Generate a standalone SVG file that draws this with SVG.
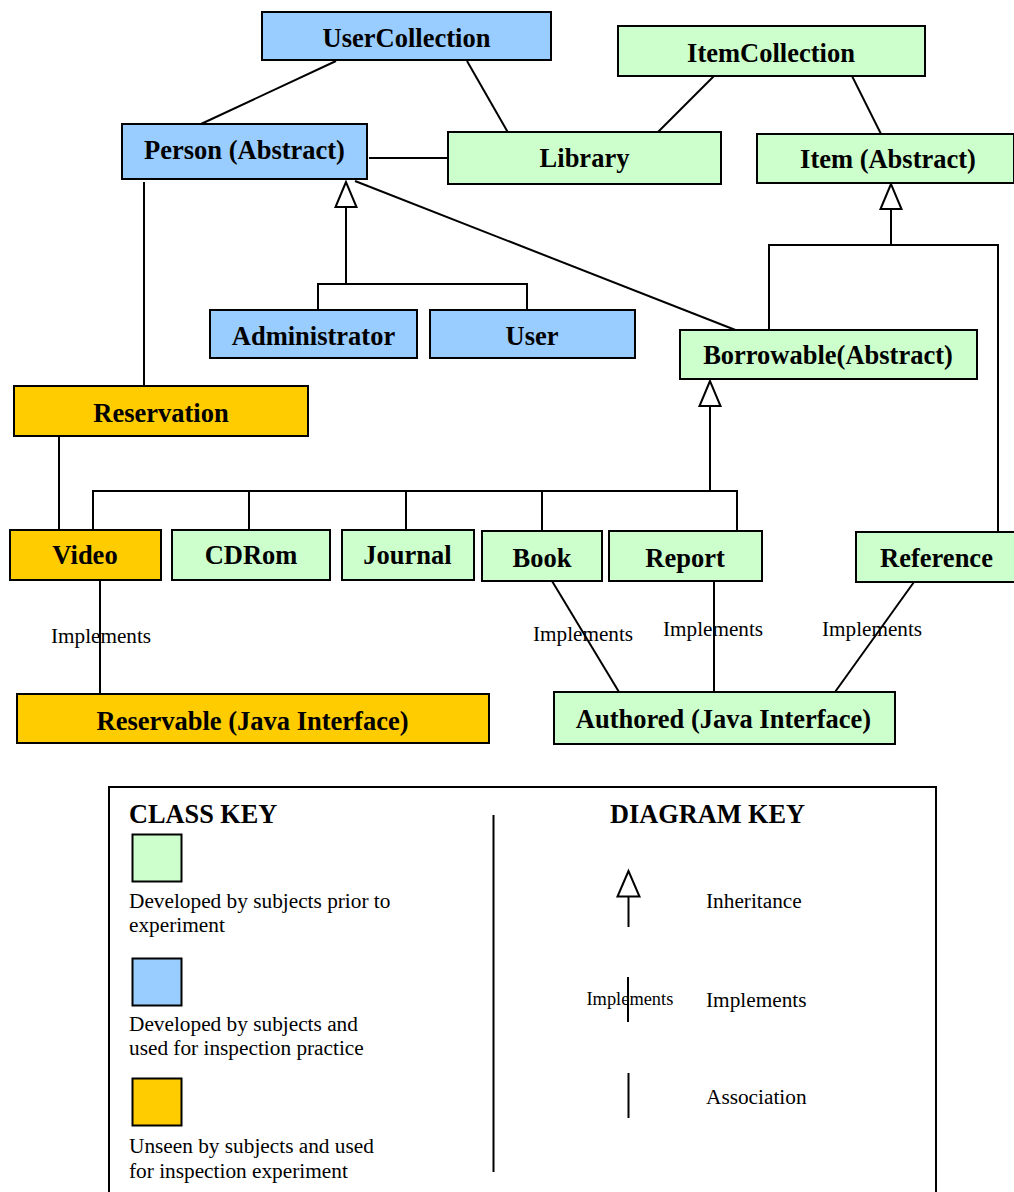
<svg xmlns="http://www.w3.org/2000/svg" width="1014" height="1192" viewBox="0 0 1014 1192">
<style>
text{font-family:"Liberation Serif","Times New Roman",serif;fill:#000}
.n{font-size:26.5px;font-weight:bold;text-anchor:middle}
.b{fill:#99CCFF;stroke:#000;stroke-width:2}
.g{fill:#CCFFCC;stroke:#000;stroke-width:2}
.o{fill:#FFCC00;stroke:#000;stroke-width:2}
.l{stroke:#000;stroke-width:2;fill:none}
.tri{fill:#fff;stroke:#000;stroke-width:2}
.lab{font-size:21.2px}
.k{font-size:21.3px}
.kh{font-size:26.3px;font-weight:bold}
</style>
<rect width="1014" height="1192" fill="#fff"/>
<g id="connectors">
<line class="l" x1="336" y1="61" x2="201" y2="124"/>
<line class="l" x1="467" y1="61" x2="510" y2="136"/>
<line class="l" x1="369" y1="158" x2="452" y2="158"/>
<line class="l" x1="714" y1="76" x2="658" y2="132"/>
<line class="l" x1="852" y1="76" x2="881" y2="134"/>
<line class="l" x1="355" y1="181" x2="738" y2="331"/>
<line class="l" x1="144" y1="182" x2="144" y2="386"/>
<polyline class="l" points="346,207 346,284"/>
<polyline class="l" points="318,310 318,284 527,284 527,310"/>
<polygon class="tri" points="346,182 335.5,207 356.5,207"/>
<polyline class="l" points="891,209 891,245"/>
<polyline class="l" points="769,330 769,245 998,245 998,531"/>
<polygon class="tri" points="891,184 880.5,209 901.5,209"/>
<line class="l" x1="59" y1="436" x2="59" y2="530"/>
<polyline class="l" points="710,406 710,491"/>
<polyline class="l" points="93,530 93,491 737,491 737,533"/>
<line class="l" x1="249" y1="491" x2="249" y2="530"/>
<line class="l" x1="406" y1="491" x2="406" y2="530"/>
<line class="l" x1="542" y1="491" x2="542" y2="531"/>
<polygon class="tri" points="710,381 699.5,406 720.5,406"/>
<line class="l" x1="100" y1="580" x2="100" y2="694"/>
<text class="lab" x="51" y="643">Implements</text>
<line class="l" x1="552" y1="581" x2="619" y2="692"/>
<text class="lab" x="533" y="641">Implements</text>
<line class="l" x1="714" y1="581" x2="714" y2="692"/>
<text class="lab" x="663" y="636">Implements</text>
<line class="l" x1="914" y1="582" x2="835" y2="692"/>
<text class="lab" x="822" y="636">Implements</text>
</g>
<g id="UserCollection"><rect class="b" x="262" y="12" width="289" height="48"/><text class="n" x="406.5" y="47">UserCollection</text></g>
<g id="Person"><rect class="b" x="122" y="124" width="245" height="55"/><text class="n" x="244.5" y="159">Person (Abstract)</text></g>
<g id="Library"><rect class="g" x="448" y="132" width="273" height="52"/><text class="n" x="584.5" y="167">Library</text></g>
<g id="ItemCollection"><rect class="g" x="618" y="26" width="307" height="50"/><text class="n" x="771" y="62">ItemCollection</text></g>
<g id="Item"><rect class="g" x="757" y="134" width="257" height="49"/><text class="n" x="888" y="168">Item (Abstract)</text></g>
<g id="Administrator"><rect class="b" x="210" y="310" width="207" height="48"/><text class="n" x="313.5" y="345">Administrator</text></g>
<g id="User"><rect class="b" x="430" y="310" width="205" height="48"/><text class="n" x="532" y="345">User</text></g>
<g id="Borrowable"><rect class="g" x="680" y="330" width="297" height="49"/><text class="n" x="828" y="364">Borrowable(Abstract)</text></g>
<g id="Reservation"><rect class="o" x="14" y="386" width="294" height="50"/><text class="n" x="161" y="422">Reservation</text></g>
<g id="Video"><rect class="o" x="10" y="530" width="151" height="50"/><text class="n" x="85" y="564">Video</text></g>
<g id="CDRom"><rect class="g" x="172" y="530" width="158" height="50"/><text class="n" x="251" y="564">CDRom</text></g>
<g id="Journal"><rect class="g" x="342" y="530" width="132" height="50"/><text class="n" x="407.5" y="564">Journal</text></g>
<g id="Book"><rect class="g" x="482" y="531" width="120" height="50"/><text class="n" x="542" y="567">Book</text></g>
<g id="Report"><rect class="g" x="609" y="531" width="153" height="50"/><text class="n" x="685" y="567">Report</text></g>
<g id="Reference"><rect class="g" x="856" y="532" width="160" height="50"/><text class="n" x="936.5" y="567">Reference</text></g>
<g id="Reservable"><rect class="o" x="17" y="694" width="472" height="49"/><text class="n" x="252.5" y="730">Reservable (Java Interface)</text></g>
<g id="Authored"><rect class="g" x="554" y="692" width="341" height="52"/><text class="n" x="723.5" y="728">Authored (Java Interface)</text></g>
<g id="key">
<rect x="109" y="787" width="827" height="420" fill="none" stroke="#000" stroke-width="2"/>
<line class="l" x1="493.5" y1="815" x2="493.5" y2="1172"/>
<text class="kh" x="129" y="823">CLASS KEY</text>
<rect class="g" x="132.5" y="834.5" width="49" height="47"/>
<text class="k" x="129" y="908">Developed by subjects prior to</text>
<text class="k" x="129" y="932">experiment</text>
<rect class="b" x="132.5" y="958.5" width="49" height="47"/>
<text class="k" x="129" y="1031">Developed by subjects and</text>
<text class="k" x="129" y="1055">used for inspection practice</text>
<rect class="o" x="132.5" y="1078.5" width="49" height="47"/>
<text class="k" x="129" y="1153">Unseen by subjects and used</text>
<text class="k" x="129" y="1178">for inspection experiment</text>
<text class="kh" x="707.5" y="823" text-anchor="middle">DIAGRAM KEY</text>
<line class="l" x1="628.5" y1="896" x2="628.5" y2="927"/>
<polygon class="tri" points="628.5,871 617.5,896.5 639.5,896.5"/>
<text class="k" x="706" y="908">Inheritance</text>
<line class="l" x1="628" y1="977" x2="628" y2="1022"/>
<text x="586.5" y="1005" style="font-size:18.4px">Implements</text>
<text class="k" x="706" y="1007">Implements</text>
<line class="l" x1="628.5" y1="1073" x2="628.5" y2="1118"/>
<text class="k" x="706" y="1104">Association</text>
</g>
</svg>
